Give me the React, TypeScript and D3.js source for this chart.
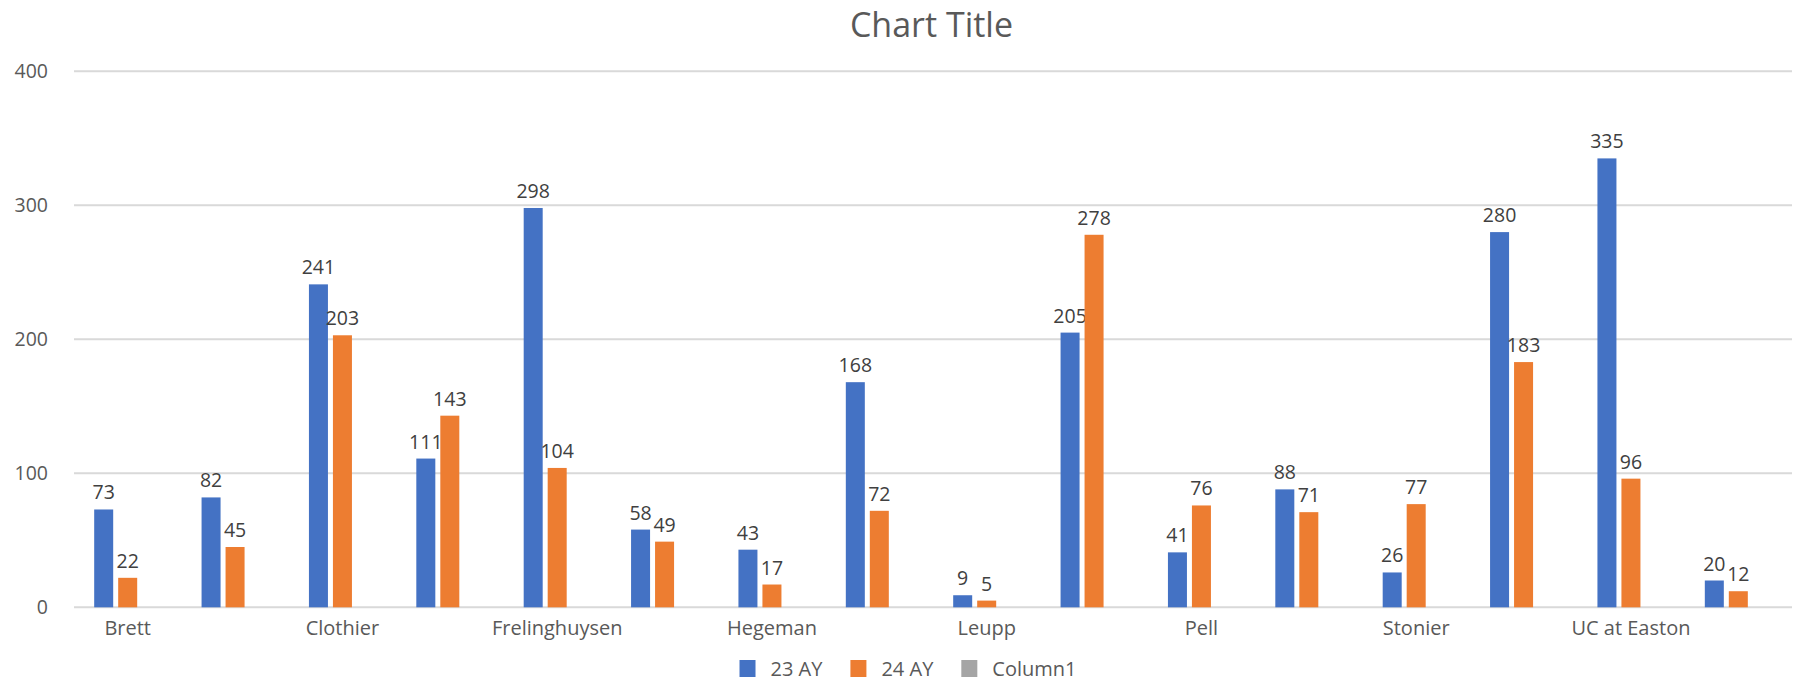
import React, { useEffect, useRef } from "react";
import * as d3 from "d3";

const categories: string[] = [
  "Brett", "", "Clothier", "", "Frelinghuysen", "", "Hegeman", "",
  "Leupp", "", "Pell", "", "Stonier", "", "UC at Easton", "",
];
const seriesNames: string[] = ["23 AY", "24 AY", "Column1"];
const ay23: (number | null)[] = [73, 82, 241, 111, 298, 58, 43, 168, 9, 205, 41, 88, 26, 280, 335, 20];
const ay24: (number | null)[] = [22, 45, 203, 143, 104, 49, 17, 72, 5, 278, 76, 71, 77, 183, 96, 12];
const column1: (number | null)[] = categories.map(() => null);
const yTicks: number[] = [0, 100, 200, 300, 400];
const colors: string[] = ["#4472C4", "#ED7D31", "#A5A5A5"];

const W = 1797;
const H = 682;
const FONT = "'Open Sans', sans-serif";
const TEXT = "#595959";

export default function App() {
  const ref = useRef<SVGSVGElement>(null);

  useEffect(() => {
    document.body.style.margin = "0";
    document.body.style.overflow = "hidden";
    const svg = d3.select(ref.current);
    svg.selectAll("*").remove();

    const left = 74, right = 1792, top = 71.3, bottom = 607.3;
    const x0 = d3.scaleBand<number>()
      .domain(categories.map((_, i) => i))
      .range([left, right])
      .paddingInner(0.376)
      .paddingOuter(0.188);
    const x1 = d3.scaleBand<number>()
      .domain(seriesNames.map((_, i) => i))
      .range([0, x0.bandwidth()])
      .paddingInner(0.208)
      .paddingOuter(0);
    const y = d3.scaleLinear().domain([0, 400]).range([bottom, top]);

    // gridlines
    svg.append("g").selectAll("line").data(yTicks).join("line")
      .attr("x1", left).attr("x2", right)
      .attr("y1", (d) => y(d)).attr("y2", (d) => y(d))
      .attr("stroke", "#D9D9D9").attr("stroke-width", 2);

    // y tick labels
    svg.append("g").selectAll("text").data(yTicks).join("text")
      .attr("x", 48).attr("y", (d) => y(d) + 7)
      .attr("text-anchor", "end")
      .attr("font-family", FONT).attr("font-size", 19.5).attr("fill", TEXT)
      .text((d) => String(d));

    // title
    svg.append("text")
      .attr("x", 931.5).attr("y", 37.3)
      .attr("text-anchor", "middle")
      .attr("font-family", FONT).attr("font-size", 34).attr("fill", TEXT)
      .text("Chart Title");

    const series = [ay23, ay24, column1];
    series.forEach((vals, s) => {
      const pts = vals.map((v, i) => ({ v, i })).filter((p) => p.v != null) as { v: number; i: number }[];
      const g = svg.append("g");
      g.selectAll("rect").data(pts).join("rect")
        .attr("x", (p) => (x0(p.i) as number) + (x1(s) as number))
        .attr("width", x1.bandwidth())
        .attr("y", (p) => y(p.v))
        .attr("height", (p) => y(0) - y(p.v))
        .attr("fill", colors[s]);
      g.selectAll("text").data(pts).join("text")
        .attr("x", (p) => (x0(p.i) as number) + (x1(s) as number) + x1.bandwidth() / 2)
        .attr("y", (p) => y(p.v) - 10)
        .attr("text-anchor", "middle")
        .attr("font-family", FONT).attr("font-size", 19.5).attr("fill", "#404040")
        .text((p) => String(p.v));
    });

    // category labels
    svg.append("g").selectAll("text").data(categories.map((c, i) => ({ c, i })).filter((d) => d.c !== ""))
      .join("text")
      .attr("x", (d) => (x0(d.i) as number) + x0.bandwidth() / 2)
      .attr("y", 635)
      .attr("text-anchor", "middle")
      .attr("font-family", FONT).attr("font-size", 20).attr("fill", TEXT)
      .text((d) => d.c);

    // legend
    const lg = svg.append("g");
    const items = seriesNames.map((name, i) => {
      const it = lg.append("g");
      it.append("rect").attr("x", 0).attr("y", 660).attr("width", 16).attr("height", 17).attr("fill", colors[i]);
      const t = it.append("text").attr("x", 31).attr("y", 675.5)
        .attr("font-family", FONT).attr("font-size", 20).attr("fill", TEXT).text(name);
      const w = (t.node() as SVGTextElement).getComputedTextLength();
      return { it, w: 31 + w };
    });
    const gap = 28;
    const total = items.reduce((a, b) => a + b.w, 0) + gap * (items.length - 1);
    let cx = 908 - total / 2;
    items.forEach((d) => {
      d.it.attr("transform", `translate(${cx},0)`);
      cx += d.w + gap;
    });
  }, []);

  return <svg ref={ref} width={W} height={H} style={{ display: "block", background: "#fff" }} />;
}
